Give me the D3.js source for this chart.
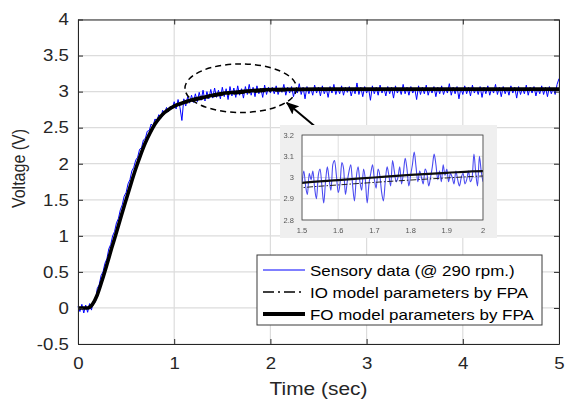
<!DOCTYPE html>
<html>
<head>
<meta charset="utf-8">
<script src="https://cdn.jsdelivr.net/npm/d3@7"></script>
<style>
  html, body { margin: 0; padding: 0; background: #fff; }
  svg { display: block; font-family: "Liberation Sans", Arial, Helvetica, sans-serif; }
</style>
</head>
<body>
<div id="chart"></div>
<script>
// axis ticks
const xTicks = [0, 1, 2, 3, 4, 5];
const yTicks = [-0.5, 0, 0.5, 1, 1.5, 2, 2.5, 3, 3.5, 4];
const insetXTicks = [1.5, 1.6, 1.7, 1.8, 1.9, 2];
const insetYTicks = [2.8, 2.9, 3, 3.1, 3.2];

// legend labels
const legendLabels = ['Sensory data (@ 290 rpm.)', 'IO model parameters by FPA', 'FO model parameters by FPA'];

// sensory data, sampled every 0.02 s from t = 0
const sensorStep = 0.02;
const sensorData = [
  0.02, -0.05, 0.05, -0.07, 0.04, -0.06, 0.06, -0.03, 0.10, 0.08,
  0.27, 0.32, 0.45, 0.50, 0.62, 0.68, 0.82, 0.88, 1.00, 1.06,
  1.18, 1.24, 1.36, 1.43, 1.55, 1.60, 1.72, 1.78, 1.90, 1.95,
  2.05, 2.09, 2.20, 2.22, 2.33, 2.35, 2.45, 2.46, 2.55, 2.52,
  2.62, 2.60, 2.68, 2.63, 2.74, 2.70, 2.78, 2.72, 2.80, 2.76,
  2.86, 2.76, 2.89, 2.78, 2.60, 2.90, 2.80, 2.93, 2.84, 2.95,
  2.85, 2.97, 2.86, 2.99, 2.88, 3.02, 2.87, 3.00, 2.90, 3.03,
  2.91, 3.05, 2.92, 3.02, 2.90, 3.06, 2.93, 3.04, 2.89, 3.07,
  2.94, 3.05, 2.92, 3.08, 2.95, 3.04, 2.91, 3.07, 2.96, 3.10,
  2.95, 3.06, 2.93, 3.08, 2.97, 3.05, 2.92, 3.09, 2.96, 3.06,
  2.98,
  3.06, 2.97, 3.08, 2.96, 3.05, 2.99, 3.10, 2.95, 3.06, 2.98,
  3.07, 2.93, 3.05, 2.98, 3.11, 2.96, 3.06, 2.90, 3.07, 2.97,
  3.05, 2.95, 3.09, 2.98, 3.06, 2.94, 3.08, 2.97, 3.05, 2.92,
  3.07, 2.98, 3.10, 2.96, 3.05, 2.97, 3.08, 2.95, 3.06, 2.99,
  3.07, 2.94, 3.05, 2.97, 3.12, 2.96, 3.06, 2.93, 3.07, 2.98,
  3.05, 2.88, 3.08, 2.97, 3.06, 2.95, 3.09, 2.98, 3.05, 2.94,
  3.07, 2.97, 3.06, 2.91, 3.08, 2.98, 3.05, 2.96, 3.10, 2.97,
  3.06, 2.95, 3.07, 2.98, 3.05, 2.89, 3.08, 2.96, 3.06, 2.97,
  3.09, 2.95, 3.05, 2.98, 3.07, 2.93, 3.06, 2.97, 3.08, 2.96,
  3.05, 2.98, 3.11, 2.95, 3.06, 2.97, 3.07, 2.90, 3.05, 2.96,
  3.08, 2.97, 3.06, 2.94, 3.09, 2.98, 3.05, 2.96, 3.07, 2.92,
  3.06, 2.97, 3.08, 2.95, 3.05, 2.98, 3.10, 2.96, 3.06, 2.93,
  3.07, 2.97, 3.05, 2.95, 3.08, 2.98, 3.06, 2.91, 3.07, 2.96,
  3.05, 2.97, 3.09, 2.95, 3.06, 2.98, 3.07, 2.94, 3.05, 2.97,
  3.08, 2.96, 3.06, 2.93, 3.07, 2.97, 3.05, 2.96, 3.10, 3.18
];

// model responses
const modelTime = [
  0, 0.05, 0.1, 0.15, 0.2, 0.25, 0.3, 0.35, 0.4, 0.45, 0.5,
  0.55, 0.6, 0.65, 0.7, 0.75, 0.8, 0.85, 0.9, 0.95, 1.0,
  1.1, 1.2, 1.3, 1.4, 1.5, 1.6, 1.7, 1.8, 1.9, 2.0,
  2.5, 3, 3.5, 4, 4.5, 5
];
const foModel = [
  0, 0, 0, 0.05, 0.18, 0.38, 0.60, 0.83, 1.05, 1.28, 1.50,
  1.72, 1.93, 2.12, 2.29, 2.43, 2.55, 2.64, 2.71, 2.76, 2.80,
  2.85, 2.89, 2.92, 2.95, 2.975, 2.988, 3.0, 3.012, 3.022, 3.03,
  3.035, 3.035, 3.035, 3.035, 3.035, 3.035
];
const ioModel = [
  0, 0, 0, 0.04, 0.17, 0.37, 0.59, 0.82, 1.04, 1.27, 1.49,
  1.71, 1.92, 2.11, 2.28, 2.42, 2.54, 2.63, 2.70, 2.75, 2.79,
  2.83, 2.87, 2.90, 2.93, 2.952, 2.965, 2.977, 2.988, 2.998, 3.007,
  3.02, 3.025, 3.03, 3.03, 3.03, 3.03
];

// zoomed data shown in the inset, every 0.005 s from t = 1.5
const insetStart = 1.5;
const insetStep = 0.005;
const insetData = [
  2.97, 3.03, 2.96, 2.92, 3.02, 2.99, 3.03, 2.95, 2.90, 3.01,
  3.04, 2.96, 2.88, 2.98, 3.05, 2.99, 2.94, 3.06, 3.08, 3.01,
  2.93, 2.97, 3.07, 3.04, 2.92, 2.98, 3.03, 3.06, 2.96, 2.89,
  3.00, 3.05, 2.98, 2.94, 3.04, 2.99, 2.88, 2.97, 3.02, 3.06,
  2.99, 2.95, 3.04, 3.01, 2.93, 2.89, 2.98, 3.05, 3.01, 2.96,
  3.08, 3.03, 2.98, 3.00, 3.05, 2.97, 3.02, 3.09, 3.04, 2.96,
  3.01, 3.06, 3.12, 3.05, 2.98, 3.03, 3.00, 2.97, 3.04, 3.02,
  2.96, 3.00, 3.05, 3.11, 3.06, 2.99, 3.03, 2.98, 3.06, 3.01,
  3.04, 2.98, 3.02, 3.00, 2.97, 3.03, 2.99, 2.96, 3.00, 3.02,
  2.97, 2.99, 3.03, 2.98, 3.00, 3.11, 3.02, 2.96, 3.10, 3.03,
  2.98
];

// annotation (data units)
const ellipseCenter = [1.692, 3.047];
const ellipseRadii = [0.58, 0.337];
const arrowFrom = [2.48, 2.5];
const arrowTo = [2.17, 2.845];

const width = 565, height = 399;
const margin = { top: 19.5, right: 6, bottom: 55, left: 78 };
const STRETCH = 1.13;
const axisColor = '#262626';

const svg = d3.select('#chart').append('svg')
  .attr('width', width)
  .attr('height', height);

const x = d3.scaleLinear().domain([0, 5]).range([margin.left, width - margin.right]);
const y = d3.scaleLinear().domain([-0.5, 4]).range([height - margin.bottom, margin.top]);

// grid
const grid = svg.append('g').attr('stroke', '#dcdcdc').attr('stroke-width', 1.2);
grid.selectAll('.gx').data(xTicks).enter().append('line')
  .attr('x1', d => x(d)).attr('x2', d => x(d))
  .attr('y1', y.range()[0]).attr('y2', y.range()[1]);
grid.selectAll('.gy').data(yTicks).enter().append('line')
  .attr('x1', x.range()[0]).attr('x2', x.range()[1])
  .attr('y1', d => y(d)).attr('y2', d => y(d));

// data lines
const sensorLine = d3.line()
  .x((d, i) => x(i * sensorStep))
  .y(d => y(d));
svg.append('path')
  .datum(sensorData)
  .attr('d', sensorLine)
  .attr('fill', 'none')
  .attr('stroke', '#0000ff')
  .attr('stroke-width', 1);

const modelLine = d3.line()
  .x((d, i) => x(modelTime[i]))
  .y(d => y(d))
  .curve(d3.curveMonotoneX);

svg.append('path')
  .datum(ioModel)
  .attr('d', modelLine)
  .attr('fill', 'none')
  .attr('stroke', '#000')
  .attr('stroke-width', 1.5)
  .attr('stroke-dasharray', '11,4,2,4');

svg.append('path')
  .datum(foModel)
  .attr('d', modelLine)
  .attr('fill', 'none')
  .attr('stroke', '#000')
  .attr('stroke-width', 3.6);

// axes, ticks point inward on all four sides
function styleAxis(g) {
  g.attr('font-size', null).attr('font-family', null);
  g.select('.domain').attr('stroke', axisColor).attr('stroke-width', 1);
  g.selectAll('.tick line').attr('stroke', axisColor);
  g.selectAll('.tick text')
    .attr('fill', axisColor)
    .attr('font-size', 16.5)
    .attr('transform', `scale(${STRETCH},1)`);
}

svg.append('g')
  .attr('transform', `translate(0,${y.range()[0]})`)
  .call(d3.axisBottom(x).tickValues(xTicks).tickFormat(d => String(d))
    .tickSizeInner(-5).tickSizeOuter(0).tickPadding(13))
  .call(styleAxis);

svg.append('g')
  .attr('transform', `translate(${x.range()[0]},0)`)
  .call(d3.axisLeft(y).tickValues(yTicks).tickFormat(d => String(d))
    .tickSizeInner(-5).tickSizeOuter(0).tickPadding(8))
  .call(styleAxis);

svg.append('g')
  .attr('transform', `translate(0,${y.range()[1]})`)
  .call(d3.axisTop(x).tickValues(xTicks).tickFormat('')
    .tickSizeInner(-5).tickSizeOuter(0))
  .call(styleAxis);

svg.append('g')
  .attr('transform', `translate(${x.range()[1]},0)`)
  .call(d3.axisRight(y).tickValues(yTicks).tickFormat('')
    .tickSizeInner(-5).tickSizeOuter(0))
  .call(styleAxis);

// axis labels
svg.append('text')
  .attr('transform', `translate(${(x.range()[0] + x.range()[1]) / 2},394.5) scale(${STRETCH},1)`)
  .attr('text-anchor', 'middle')
  .attr('font-size', 18.5)
  .attr('fill', axisColor)
  .text('Time (sec)');

svg.append('text')
  .attr('transform', `translate(25,168.5) scale(${STRETCH},1) rotate(-90)`)
  .attr('text-anchor', 'middle')
  .attr('font-size', 16)
  .attr('fill', axisColor)
  .text('Voltage (V)');

// ellipse + arrow annotation
svg.append('ellipse')
  .attr('cx', x(ellipseCenter[0]))
  .attr('cy', y(ellipseCenter[1]))
  .attr('rx', x(ellipseRadii[0]) - x(0))
  .attr('ry', y(0) - y(ellipseRadii[1]))
  .attr('fill', 'none')
  .attr('stroke', '#000')
  .attr('stroke-width', 1.5)
  .attr('stroke-dasharray', '6,4');

svg.append('defs').append('marker')
  .attr('id', 'head')
  .attr('viewBox', '0 0 12 10')
  .attr('refX', 11)
  .attr('refY', 5)
  .attr('markerUnits', 'userSpaceOnUse')
  .attr('markerWidth', 13)
  .attr('markerHeight', 11)
  .attr('orient', 'auto')
  .append('path')
  .attr('d', 'M0,0 L12,5 L0,10 L2.5,5 Z')
  .attr('fill', '#000');

svg.append('line')
  .attr('x1', x(arrowFrom[0])).attr('y1', y(arrowFrom[1]))
  .attr('x2', x(arrowTo[0])).attr('y2', y(arrowTo[1]))
  .attr('stroke', '#000')
  .attr('stroke-width', 2)
  .attr('marker-end', 'url(#head)');

// inset
const inset = { bx: 280, by: 125, bw: 217, bh: 113, left: 302, right: 483, top: 135, bottom: 220 };
const xi = d3.scaleLinear().domain([1.5, 2]).range([inset.left, inset.right]);
const yi = d3.scaleLinear().domain([2.8, 3.2]).range([inset.bottom, inset.top]);

svg.select('defs').append('filter').attr('id', 'soft')
  .append('feGaussianBlur').attr('stdDeviation', 0.35);
svg.select('defs').append('clipPath').attr('id', 'insetClip')
  .append('rect')
  .attr('x', inset.left).attr('y', inset.top)
  .attr('width', inset.right - inset.left).attr('height', inset.bottom - inset.top);

const ig = svg.append('g').attr('filter', 'url(#soft)');
ig.append('rect')
  .attr('x', inset.bx).attr('y', inset.by)
  .attr('width', inset.bw).attr('height', inset.bh)
  .attr('fill', '#efefef');
ig.append('rect')
  .attr('x', inset.left).attr('y', inset.top)
  .attr('width', inset.right - inset.left).attr('height', inset.bottom - inset.top)
  .attr('fill', '#fff');

const igrid = ig.append('g').attr('stroke', '#dedede').attr('stroke-width', 1);
igrid.selectAll('.gx').data(insetXTicks).enter().append('line')
  .attr('x1', d => xi(d)).attr('x2', d => xi(d))
  .attr('y1', inset.top).attr('y2', inset.bottom);
igrid.selectAll('.gy').data(insetYTicks).enter().append('line')
  .attr('x1', inset.left).attr('x2', inset.right)
  .attr('y1', d => yi(d)).attr('y2', d => yi(d));

const iplot = ig.append('g').attr('clip-path', 'url(#insetClip)');
iplot.append('path')
  .datum(insetData)
  .attr('d', d3.line().x((d, i) => xi(insetStart + i * insetStep)).y(d => yi(d)).curve(d3.curveMonotoneX))
  .attr('fill', 'none')
  .attr('stroke', '#4b4bf0')
  .attr('stroke-width', 1.1);

const insetModelLine = d3.line()
  .x((d, i) => xi(modelTime[i]))
  .y(d => yi(d))
  .curve(d3.curveMonotoneX);
iplot.append('path')
  .datum(ioModel)
  .attr('d', insetModelLine)
  .attr('fill', 'none')
  .attr('stroke', '#222')
  .attr('stroke-width', 1)
  .attr('stroke-dasharray', '6,2,1.5,2');
iplot.append('path')
  .datum(foModel)
  .attr('d', insetModelLine)
  .attr('fill', 'none')
  .attr('stroke', '#111')
  .attr('stroke-width', 2.2);

ig.append('rect')
  .attr('x', inset.left).attr('y', inset.top)
  .attr('width', inset.right - inset.left).attr('height', inset.bottom - inset.top)
  .attr('fill', 'none')
  .attr('stroke', '#444')
  .attr('stroke-width', 0.8);

ig.selectAll('.ixl').data(insetXTicks).enter().append('text')
  .attr('x', d => xi(d))
  .attr('y', 233.3)
  .attr('text-anchor', 'middle')
  .attr('font-size', 7.5)
  .attr('fill', '#555')
  .text(d => String(d));
ig.selectAll('.iyl').data(insetYTicks).enter().append('text')
  .attr('x', inset.left - 8)
  .attr('y', d => yi(d))
  .attr('dy', '0.35em')
  .attr('text-anchor', 'end')
  .attr('font-size', 7.5)
  .attr('fill', '#555')
  .text(d => String(d));

// legend
const lg = svg.append('g');
lg.append('rect')
  .attr('x', 257).attr('y', 255)
  .attr('width', 285).attr('height', 70)
  .attr('fill', '#fff')
  .attr('stroke', '#3a3a3a')
  .attr('stroke-width', 1);

const legendStyles = [
  { stroke: '#0000ff', width: 1, dash: null },
  { stroke: '#000', width: 1.5, dash: '11,4,2,4' },
  { stroke: '#000', width: 4, dash: null }
];
const rows = lg.selectAll('.row').data(legendLabels).enter().append('g')
  .attr('transform', (d, i) => `translate(0,${270 + i * 22})`);
rows.append('line')
  .attr('x1', 263).attr('x2', 305)
  .attr('y1', 0).attr('y2', 0)
  .attr('stroke', (d, i) => legendStyles[i].stroke)
  .attr('stroke-width', (d, i) => legendStyles[i].width)
  .attr('stroke-dasharray', (d, i) => legendStyles[i].dash);
rows.append('text')
  .attr('transform', `translate(310,5.5) scale(${STRETCH},1)`)
  .attr('font-size', 15)
  .attr('fill', '#000')
  .text(d => d);
</script>
</body>
</html>
